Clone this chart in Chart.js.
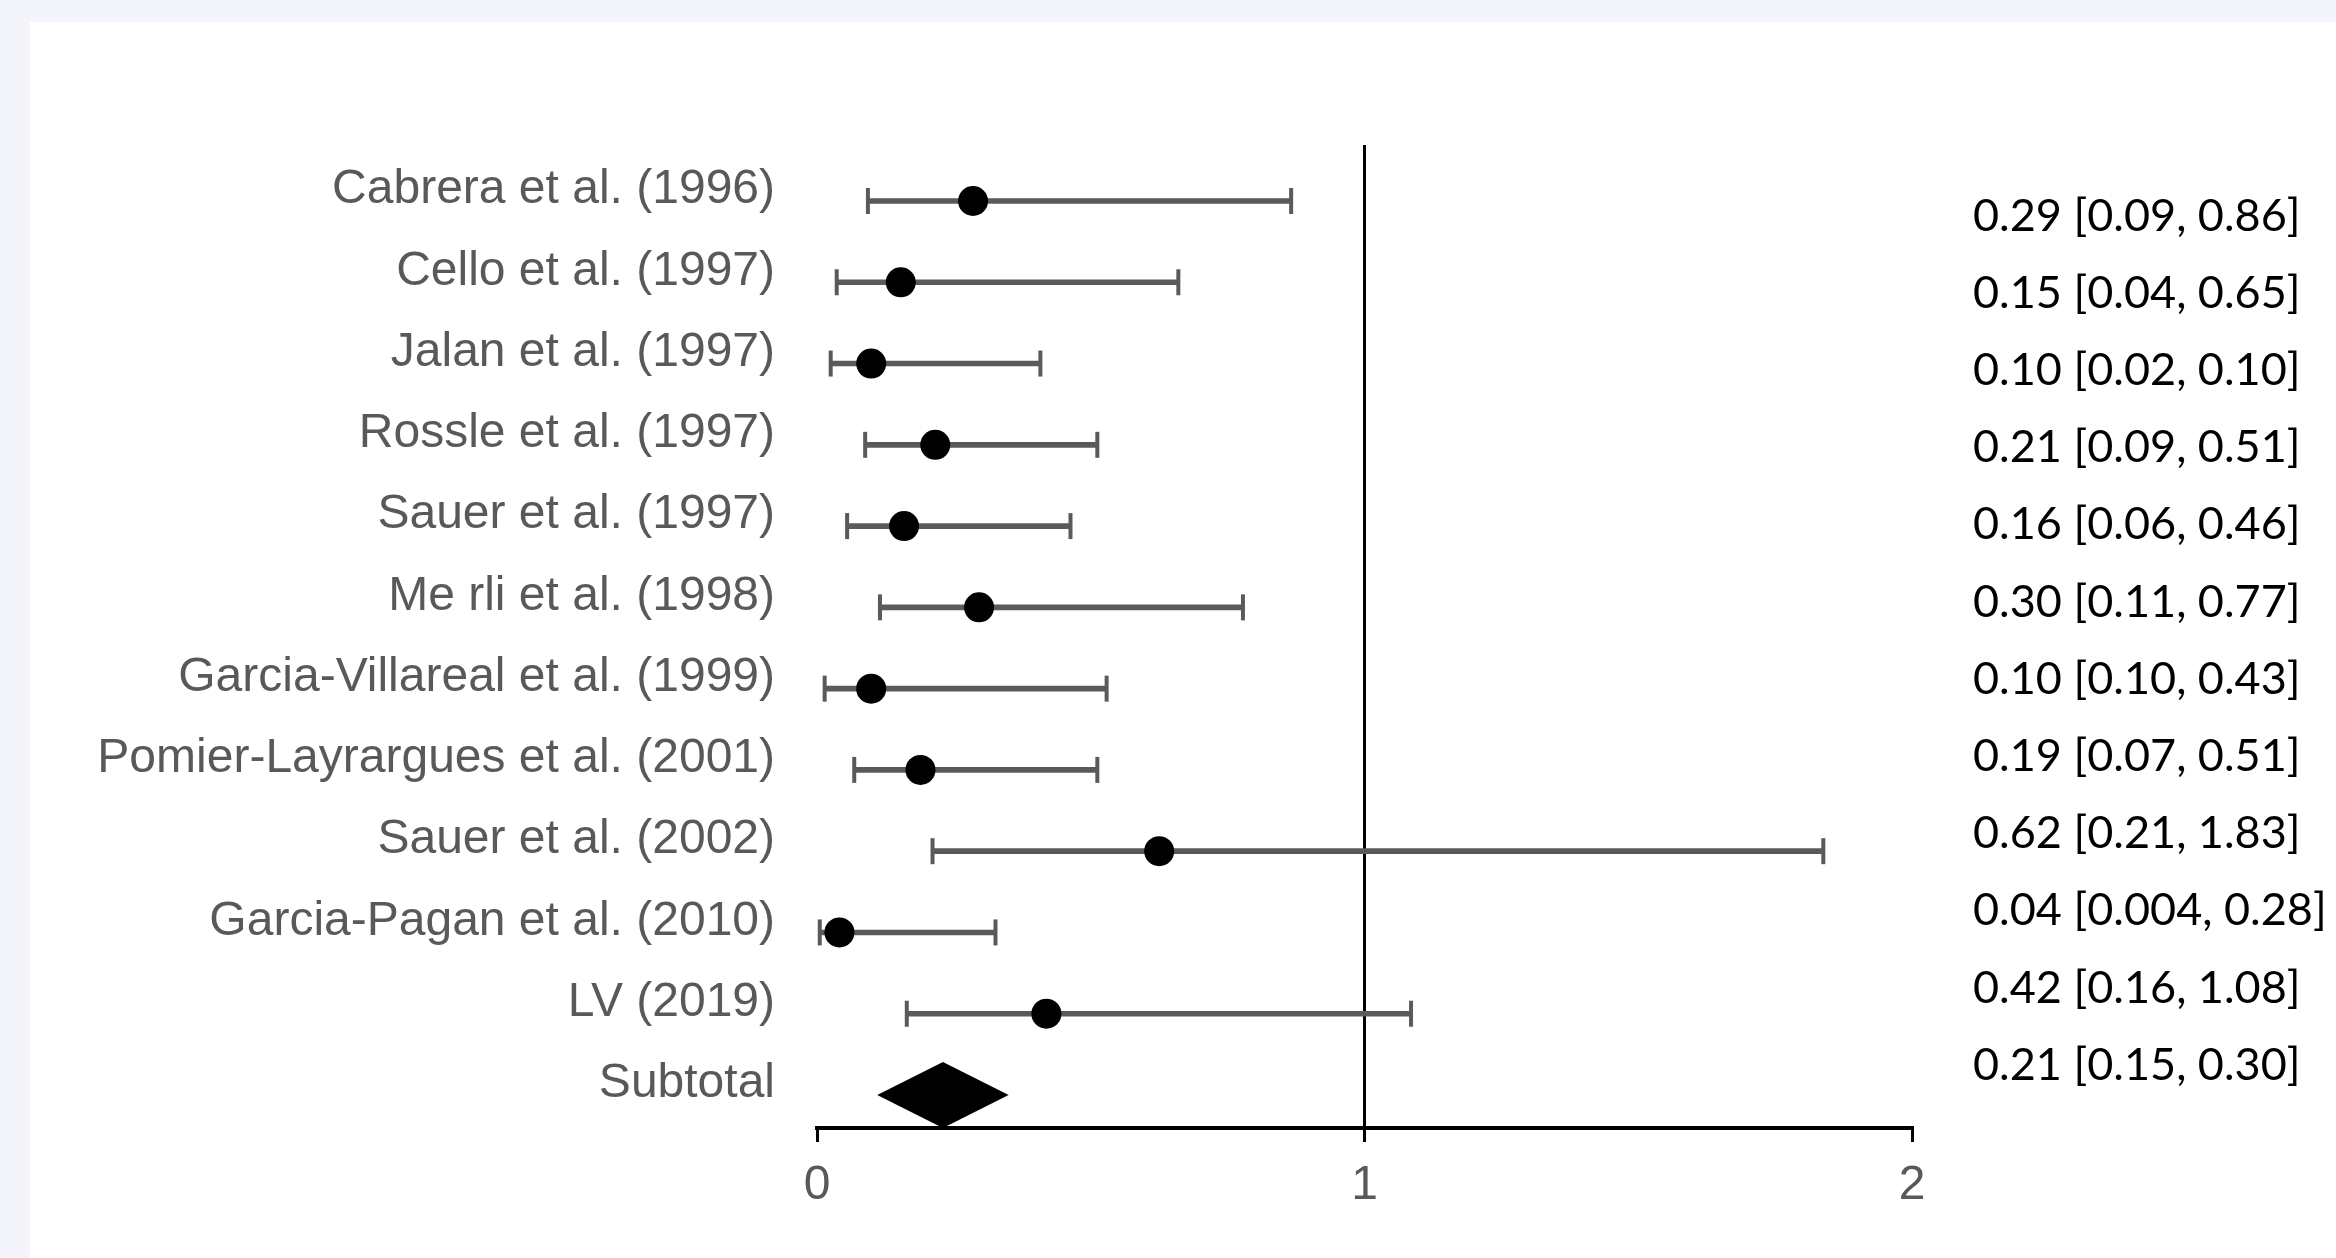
<!DOCTYPE html>
<html>
<head>
<meta charset="utf-8">
<script src="https://cdn.jsdelivr.net/npm/chart.js@4.4.1/dist/chart.umd.min.js"></script>
<style>
  body { margin: 0; background: #f4f5fa; overflow: hidden; }
  #card { position: absolute; left: 30px; top: 22px; width: 2306px; height: 1236px; background: #fff; }
  canvas { display: block; }
</style>
</head>
<body>
<div id="card"><canvas id="forest" width="2306" height="1236"></canvas></div>
<script>
// studies, top to bottom
let studyNames = [
  "Cabrera et al. (1996)", "Cello et al. (1997)", "Jalan et al. (1997)",
  "Rossle et al. (1997)", "Sauer et al. (1997)", "Me rli et al. (1998)",
  "Garcia-Villareal et al. (1999)", "Pomier-Layrargues et al. (2001)",
  "Sauer et al. (2002)", "Garcia-Pagan et al. (2010)", "LV (2019)"
];
let rowLabels = studyNames.concat(["Subtotal"]);

// values as drawn on the plot
let estimate = [0.285, 0.153, 0.099, 0.216, 0.159, 0.296, 0.099, 0.189, 0.625, 0.041, 0.419];
let ciLow    = [0.093, 0.036, 0.025, 0.088, 0.055, 0.115, 0.014, 0.068, 0.211, 0.005, 0.164];
let ciHigh   = [0.866, 0.660, 0.408, 0.512, 0.463, 0.778, 0.529, 0.512, 1.838, 0.326, 1.085];

let subtotal = [0.11, 0.23, 0.35]; // low, estimate, high

let ciText = [
  "0.29 [0.09, 0.86]", "0.15 [0.04, 0.65]", "0.10 [0.02, 0.10]",
  "0.21 [0.09, 0.51]", "0.16 [0.06, 0.46]", "0.30 [0.11, 0.77]",
  "0.10 [0.10, 0.43]", "0.19 [0.07, 0.51]", "0.62 [0.21, 1.83]",
  "0.04 [0.004, 0.28]", "0.42 [0.16, 1.08]", "0.21 [0.15, 0.30]"
];

let xTicks = [0, 1, 2];

const labelFont = { family: "'Liberation Sans', Arial, sans-serif", size: 48 };
const greyText = "#595959";
const whiskerColor = "#5a5a5a";

let whiskers = studyNames.map((n, i) => ({ x: [ciLow[i], ciHigh[i]], y: i }));
let caps = [];
studyNames.forEach((n, i) => {
  caps.push({ x: ciLow[i], y: i });
  caps.push({ x: ciHigh[i], y: i });
});
let points = estimate.map((v, i) => ({ x: v, y: i }));

// diamond for the pooled estimate + the text column on the right
const forestExtras = {
  id: "forestExtras",
  afterDatasetsDraw(chart) {
    const ctx = chart.ctx;
    const xs = chart.scales.x, ys = chart.scales.y;
    const row = rowLabels.length - 1;
    const cy = ys.getPixelForValue(row);
    const half = 33;
    ctx.save();
    ctx.fillStyle = "#000";
    ctx.beginPath();
    ctx.moveTo(xs.getPixelForValue(subtotal[0]), cy);
    ctx.lineTo(xs.getPixelForValue(subtotal[1]), cy - half);
    ctx.lineTo(xs.getPixelForValue(subtotal[2]), cy);
    ctx.lineTo(xs.getPixelForValue(subtotal[1]), cy + half);
    ctx.closePath();
    ctx.fill();

    // the text column is a separate list with its own line spacing
    ctx.font = "45px Lato, 'Open Sans', sans-serif";
    ctx.textAlign = "left";
    ctx.textBaseline = "middle";
    const firstLine = ys.getPixelForValue(0) + 15;
    const lineGap = 77.2;
    ciText.forEach((t, i) => {
      ctx.fillText(t, 1943, firstLine + i * lineGap);
    });
    ctx.restore();
  }
};

new Chart("forest", {
  type: "scatter",
  data: {
    datasets: [
      {
        type: "bar",
        indexAxis: "y",
        data: whiskers,
        backgroundColor: whiskerColor,
        barThickness: 5,
        order: 3
      },
      {
        type: "scatter",
        data: caps,
        pointStyle: "line",
        rotation: 90,
        pointRadius: 13,
        borderWidth: 4,
        borderColor: whiskerColor,
        order: 2
      },
      {
        type: "scatter",
        data: points,
        pointStyle: "circle",
        pointRadius: 15,
        backgroundColor: "#000",
        borderColor: "#000",
        borderWidth: 0,
        order: 1
      }
    ]
  },
  options: {
    responsive: false,
    animation: false,
    devicePixelRatio: 1,
    layout: { padding: { left: 0, right: 424, top: 123, bottom: 0 } },
    plugins: { legend: { display: false }, tooltip: { enabled: false } },
    scales: {
      x: {
        type: "linear",
        position: "bottom",
        min: 0,
        max: 2,
        offset: false,
        afterBuildTicks: (scale) => { scale.ticks = xTicks.map(v => ({ value: v })); },
        afterFit: (scale) => { scale.height = 130; },
        border: { display: true, color: "#000", width: 4 },
        grid: {
          offset: false,
          color: (c) => (c.tick && c.tick.value === 1 ? "#000" : "rgba(0,0,0,0)"),
          lineWidth: 3,
          drawTicks: true,
          tickLength: 14,
          tickColor: "#000",
          tickWidth: 3
        },
        ticks: { color: greyText, font: labelFont, padding: 15 }
      },
      y: {
        type: "linear",
        position: "left",
        reverse: true,
        offset: false,
        min: -0.689,
        max: 11.406,
        afterBuildTicks: (scale) => { scale.ticks = rowLabels.map((l, i) => ({ value: i })); },
        afterFit: (scale) => { scale.width = 787; },
        border: { display: false },
        grid: { display: false, drawTicks: false, offset: false },
        ticks: {
          color: greyText,
          font: labelFont,
          padding: 42,
          labelOffset: -11,
          callback: (v) => rowLabels[v]
        }
      }
    }
  },
  plugins: [forestExtras]
});
</script>
</body>
</html>
